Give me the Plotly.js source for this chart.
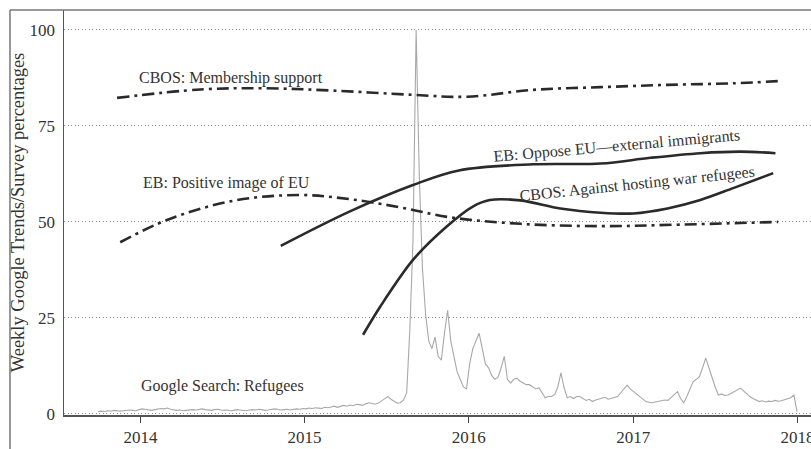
<!DOCTYPE html>
<html>
<head>
<meta charset="utf-8">
<script src="https://cdn.plot.ly/plotly-3.0.1.min.js"></script>
<style>
html,body{margin:0;padding:0;background:#fff;}
#chart{width:811px;height:449px;}
</style>
</head>
<body>
<div id="chart"></div>
<script>
// Google Trends weekly series "Refugees" (first week starting 2013-09-29)
const googleStart = '2013-09-29';
const googleValues = [
  0.6,0.7,0.6,0.8,0.7,0.9,0.8,0.7,0.8,0.9,
  1.0,0.9,0.8,1.1,1.3,1.2,1.0,0.9,1.1,1.2,
  1.4,1.3,1.5,1.2,1.0,0.9,1.0,0.8,0.9,1.0,
  1.1,1.0,1.2,1.3,1.1,1.0,0.9,1.1,1.2,1.0,
  0.9,1.0,0.8,0.9,1.1,1.0,0.9,0.8,1.0,1.1,
  1.0,1.2,1.1,0.9,1.0,1.1,1.3,1.2,1.0,1.1,
  1.2,1.0,1.1,1.3,1.2,1.4,1.3,1.5,1.4,1.6,
  1.5,1.4,1.7,1.6,1.8,2.0,1.7,1.9,2.2,2.0,
  2.3,2.1,2.5,2.4,2.2,2.6,2.9,2.7,2.5,2.8,
  3.3,4.0,4.5,3.8,3.2,2.8,2.9,3.6,5.5,22,
  45,100,62,38,26,19,17,20,15,14,
  21,27,19,15,11,9,7,6.5,13,17,
  19,21,17,13,12,10,9,9.5,12,15,
  9,8,9,9.3,8.5,8,7.6,7.6,7,6.5,
  6.8,5.5,4.2,4.5,4.5,5,7,10.7,6.8,4.2,
  4.5,4,4.5,4.5,4,3.5,3.8,3.2,3.6,3.9,
  4.1,4.3,3.8,4,4.1,4.5,5.5,6.5,7.5,6.5,
  5.8,5.2,4.5,3.8,3.2,3,2.9,3.1,3.3,3.4,
  3.6,3.5,4.2,5,5.8,4,2.9,4.5,6.5,8.4,
  9,9.7,12,14.5,12,9.3,7,4.9,5.2,4.8,
  4.9,5.3,5.8,6.3,6.7,6,5.2,4.5,4,3.6,
  3.2,3.4,3.1,3.3,3.2,3.5,3.3,3.4,3.6,3.8,
  4.2,4.9,0.6
];

// CBOS: Membership support
const cbosMemberDates = ['2013-11-10','2014-05-14','2014-10-09','2015-03-05','2015-08-30','2015-12-28','2016-05-23','2016-10-20','2017-03-18','2017-08-11','2017-11-24'];
const cbosMemberValues = [82.3,84.5,84.8,84.2,83.1,82.6,84.4,85.1,85.7,86.1,86.7];

// EB: Positive image of EU
const ebPositiveDates = ['2013-11-17','2014-03-01','2014-07-26','2014-12-21','2015-04-13','2015-08-01','2015-11-20','2016-04-25','2016-10-20','2017-04-16','2017-11-19'];
const ebPositiveValues = [44.7,50.5,55.5,57.0,55.9,53.8,51.2,49.5,48.9,49.3,50.0];

// EB: Oppose EU—external immigrants
const ebOpposeDates = ['2014-11-09','2015-04-13','2015-08-30','2015-12-10','2016-05-23','2016-10-20','2017-02-08','2017-05-30','2017-08-26','2017-11-13'];
const ebOpposeValues = [43.75,52.8,59.6,63.4,65.0,65.2,66.7,67.9,68.3,67.9];

// CBOS: Against hosting war refugees
const cbosAgainstDates = ['2015-05-11','2015-06-18','2015-08-30','2015-11-13','2016-01-10','2016-02-17','2016-04-25','2016-07-23','2016-10-20','2017-01-01','2017-03-18','2017-05-30','2017-08-11','2017-11-08'];
const cbosAgainstValues = [20.6,27.9,40.1,48.8,54.0,55.7,55.6,53.5,52.4,52.2,53.5,55.7,58.8,62.7];

const yearTicks = ['2014-01-01','2015-01-01','2016-01-01','2017-01-01','2018-01-01'];
const yearLabels = ['2014','2015','2016','2017','2018'];
const yTicks = [0,25,50,75,100];

function weeklyDates(start, n){
  const out = [];
  const d0 = new Date(start + 'T00:00:00Z');
  for (let i = 0; i < n; i++) {
    const d = new Date(d0.getTime() + i*7*86400000);
    out.push(d.toISOString().slice(0,10));
  }
  return out;
}
const googleDates = weeklyDates(googleStart, googleValues.length);

const serif = '"Liberation Serif", "Times New Roman", serif';
const dashDot = '12px,5px,3px,5px';
const ink = '#2a2a2a';

const traces = [
  {x: googleDates, y: googleValues, type:'scatter', mode:'lines',
   line:{color:'#a8a8a8', width:1.1}, hoverinfo:'skip'},
  {x: cbosMemberDates, y: cbosMemberValues, type:'scatter', mode:'lines',
   line:{color:ink, width:2.6, dash:dashDot, shape:'spline', smoothing:1}},
  {x: ebPositiveDates, y: ebPositiveValues, type:'scatter', mode:'lines',
   line:{color:ink, width:2.6, dash:dashDot, shape:'spline', smoothing:1}},
  {x: ebOpposeDates, y: ebOpposeValues, type:'scatter', mode:'lines',
   line:{color:ink, width:2.6, shape:'spline', smoothing:1}},
  {x: cbosAgainstDates, y: cbosAgainstValues, type:'scatter', mode:'lines',
   line:{color:ink, width:2.6, shape:'spline', smoothing:0.9}}
];

const annFont = {family: serif, size: 16, color: '#333'};
const layout = {
  width: 811, height: 449,
  margin: {l:64, r:0, t:10, b:34},
  paper_bgcolor:'#fff', plot_bgcolor:'#fff',
  showlegend:false,
  font:{family: serif, color:'#333'},
  xaxis:{
    type:'date', range:['2013-07-15','2018-01-31'],
    tickvals: yearTicks, ticktext: yearLabels,
    ticks:'outside', ticklen:6, tickwidth:1.2, tickcolor:'#444',
    ticklabeloverflow:'allow',
    showgrid:false, zeroline:false,
    showline:true, linecolor:'#555', linewidth:1.5,
    tickfont:{family: serif, size:17, color:'#333'}
  },
  yaxis:{
    range:[-0.3,105.2],
    tickvals: yTicks,
    ticks:'', showgrid:true, gridcolor:'#8a8a8a', griddash:'1px,2.5px', gridwidth:1,
    zeroline:false, showline:true, linecolor:'#555', linewidth:1.5,
    tickfont:{family: serif, size:17, color:'#333'},
    ticklabelstandoff: 4,
    title:{text:'Weekly Google Trends/Survey percentages', font:{family: serif, size:18.5, color:'#333'}, standoff: 0}
  },
  annotations:[
    {x:'2014-07-21', y:87.5, xref:'x', yref:'y', text:'CBOS: Membership support', showarrow:false, font:annFont},
    {x:'2014-07-12', y:60.2, xref:'x', yref:'y', text:'EB: Positive image of EU', showarrow:false, font:annFont},
    {x:'2016-11-26', y:69.8, xref:'x', yref:'y', text:'EB: Oppose EU\u2014external immigrants', showarrow:false, font:annFont, textangle:-5},
    {x:'2017-01-08', y:59.9, xref:'x', yref:'y', text:'CBOS: Against hosting war refugees', showarrow:false, font:annFont, textangle:-6},
    {x:'2014-07-03', y:7.3, xref:'x', yref:'y', text:'Google Search: Refugees', showarrow:false, font:annFont}
  ],
  shapes:[
    {type:'line', xref:'paper', yref:'paper', x0:-0.0723, x1:1, y0:1, y1:1, line:{color:'#777', width:1.5}},
    {type:'line', xref:'paper', yref:'paper', x0:-0.0723, x1:-0.0723, y0:1, y1:-0.1, line:{color:'#777', width:1.5}}
  ]
};

Plotly.newPlot('chart', traces, layout, {displayModeBar:false, staticPlot:true});
</script>
</body>
</html>
